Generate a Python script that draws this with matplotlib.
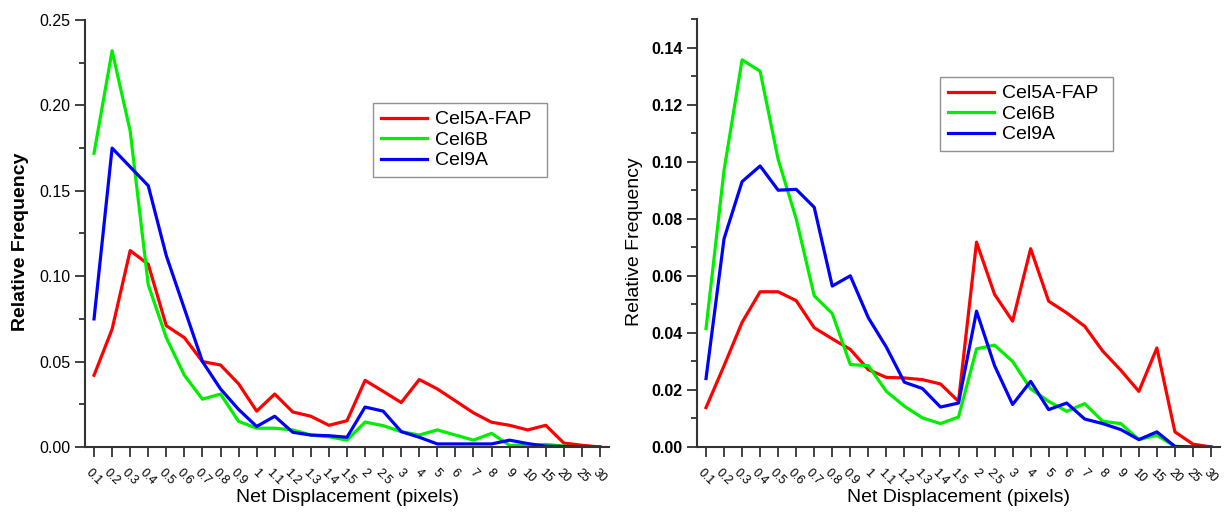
import matplotlib
matplotlib.use('Agg')
import matplotlib.pyplot as plt
from matplotlib.ticker import MultipleLocator, FormatStrFormatter

plt.rcParams['font.family'] = ['Liberation Sans', 'DejaVu Sans']

# bin labels (net displacement, pixels)
bins = ['0.1', '0.2', '0.3', '0.4', '0.5', '0.6', '0.7', '0.8', '0.9', '1',
        '1.1', '1.2', '1.3', '1.4', '1.5', '2', '2.5', '3', '4', '5',
        '6', '7', '8', '9', '10', '15', '20', '25', '30']

# left panel
left_cel5a = [0.042, 0.069, 0.115, 0.107, 0.071, 0.064, 0.050, 0.048, 0.037, 0.021,
              0.031, 0.0205, 0.018, 0.0127, 0.0154, 0.039, 0.0326, 0.026, 0.0395, 0.034,
              0.027, 0.020, 0.0145, 0.0127, 0.010, 0.0127, 0.0023, 0.001, 0.0]
left_cel6b = [0.172, 0.232, 0.185, 0.095, 0.064, 0.042, 0.028, 0.031, 0.015, 0.011,
              0.011, 0.010, 0.007, 0.006, 0.004, 0.0146, 0.0125, 0.009, 0.007, 0.010,
              0.007, 0.004, 0.008, 0.001, 0.001, 0.0015, 0.0005, 0.0, 0.0]
left_cel9a = [0.075, 0.175, 0.164, 0.153, 0.112, 0.081, 0.050, 0.034, 0.022, 0.012,
              0.018, 0.0086, 0.007, 0.0066, 0.0057, 0.0234, 0.021, 0.009, 0.0057, 0.0018,
              0.0018, 0.0018, 0.0018, 0.004, 0.002, 0.0005, 0.0003, 0.0, 0.0]

# right panel
right_cel5a = [0.0138, 0.0285, 0.0437, 0.0544, 0.0544, 0.0513, 0.0418, 0.0379, 0.0342, 0.0271,
               0.0244, 0.0242, 0.0236, 0.0221, 0.016, 0.0718, 0.0535, 0.0441, 0.0695, 0.0511,
               0.047, 0.0423, 0.0336, 0.0269, 0.0195, 0.0347, 0.0053, 0.001, 0.0]
right_cel6b = [0.0415, 0.097, 0.1357, 0.1317, 0.1008, 0.080, 0.053, 0.0468, 0.0289, 0.0285,
               0.0195, 0.0143, 0.0102, 0.0082, 0.0105, 0.0344, 0.0357, 0.030, 0.0204, 0.016,
               0.0125, 0.0152, 0.009, 0.0082, 0.0026, 0.0041, 0.0002, 0.0, 0.0]
right_cel9a = [0.024, 0.073, 0.093, 0.0985, 0.090, 0.0903, 0.084, 0.0564, 0.060, 0.0453,
               0.035, 0.0227, 0.0205, 0.014, 0.0154, 0.0476, 0.0285, 0.0149, 0.023, 0.0131,
               0.0154, 0.0098, 0.0082, 0.0061, 0.0026, 0.0053, 0.0002, 0.0, 0.0]

names = ['Cel5A-FAP', 'Cel6B', 'Cel9A']
colors = ['#ff0000', '#00ee00', '#0000ff']

W, H = 1224, 512
fig = plt.figure(figsize=(W / 100, H / 100), dpi=100)
ax1 = fig.add_axes([85/W, 65/H, 524/W, 427/H])
ax2 = fig.add_axes([697/W, 65/H, 523/W, 428/H])

# legend boxes: left, bottom, width, height (figure fraction)
panels = [
    (ax1, [left_cel5a, left_cel6b, left_cel9a], 0.25, 0.05, 0.025, 'bold', 'normal',
     (373/W, 1 - 183/H, 174/W, 80/H), -0.106),
    (ax2, [right_cel5a, right_cel6b, right_cel9a], 0.15, 0.02, 0.01, 'normal', 'bold',
     (940/W, 1 - 157/H, 173/W, 80/H), -0.103),
]

x = list(range(len(bins)))
for ax, series, ymax, major, minor, ylab_w, tick_w, leg_box, ylab_x in panels:
    for vals, name, c in zip(series, names, colors):
        ax.plot(x, vals, color=c, lw=2.3, label=name)
    ax.set_xlim(-0.5, len(bins) - 0.5)
    ax.set_ylim(0, ymax)
    ax.yaxis.set_major_locator(MultipleLocator(major))
    ax.yaxis.set_minor_locator(MultipleLocator(minor))
    ax.yaxis.set_major_formatter(FormatStrFormatter('%.2f'))
    ax.set_xticks(x)
    ax.set_xticklabels(bins, rotation=-45, ha='center', va='top', fontsize=9)
    for lab in ax.get_yticklabels():
        lab.set_fontweight(tick_w)
        lab.set_fontsize(11.5)
    ax.spines['top'].set_visible(False)
    ax.spines['right'].set_visible(False)
    for s in ['left', 'bottom']:
        ax.spines[s].set_linewidth(1.5)
        ax.spines[s].set_color('#333333')
    ax.tick_params(axis='both', which='major', direction='out', length=7, width=1.3, color='#333333')
    ax.tick_params(axis='y', which='minor', direction='out', length=4, width=1.3, color='#333333')
    ax.tick_params(axis='x', pad=7)
    ax.set_xlabel('Net Displacement (pixels)', fontsize=14, va='top')
    ax.xaxis.set_label_coords(0.5, -0.098)
    ax.set_ylabel('Relative Frequency', fontsize=14, fontweight=ylab_w)
    ax.yaxis.set_label_coords(ylab_x, 0.48)
    leg = ax.legend(loc='upper left', bbox_to_anchor=leg_box, bbox_transform=fig.transFigure,
                    mode='expand', fontsize=14, handlelength=2.4, fancybox=False,
                    borderaxespad=0, labelspacing=0.15, handletextpad=0.4)
    leg.get_frame().set_edgecolor('#777777')
    leg.get_frame().set_linewidth(1.0)

fig.savefig('out.png', dpi=100)
